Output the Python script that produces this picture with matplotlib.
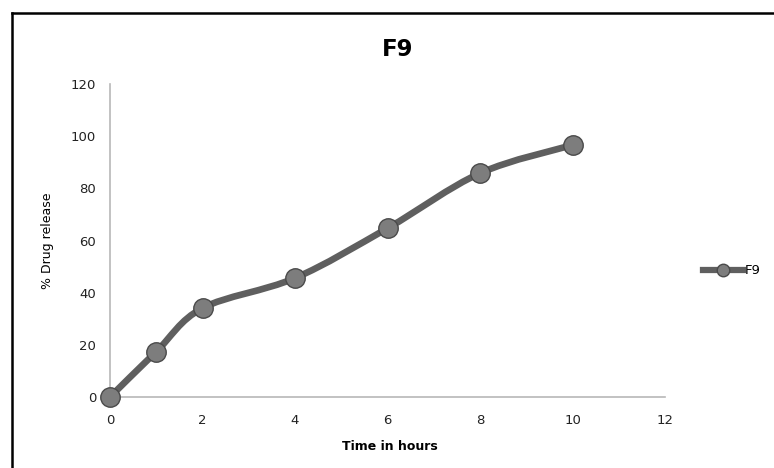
"""F9: % Drug release vs time (Excel-style smoothed line)."""

import matplotlib

matplotlib.use("Agg")
import matplotlib.pyplot as plt
from matplotlib.lines import Line2D
from matplotlib.patches import PathPatch
from matplotlib.path import Path

plt.rcParams["font.family"] = ["DejaVu Sans"]

TIME_H = [0, 1, 2, 4, 6, 8, 10]
RELEASE = [0, 17.4, 34.1, 45.6, 64.7, 85.8, 96.6]
SERIES = "F9"
X_TICKS = [0, 2, 4, 6, 8, 10, 12]
Y_TICKS = [0, 20, 40, 60, 80, 100, 120]

LINE_COL = "#5f5f5f"


def smooth_path(xs, ys):
    """Bezier path through the points, like Excel's smoothed line."""
    pts = list(zip(xs, ys))
    verts = [pts[0]]
    codes = [Path.MOVETO]
    n = len(pts)
    for i in range(n - 1):
        p0 = pts[max(i - 1, 0)]
        p1 = pts[i]
        p2 = pts[i + 1]
        p3 = pts[min(i + 2, n - 1)]
        c1 = (p1[0] + (p2[0] - p0[0]) / 6, p1[1] + (p2[1] - p0[1]) / 6)
        c2 = (p2[0] - (p3[0] - p1[0]) / 6, p2[1] - (p3[1] - p1[1]) / 6)
        verts += [c1, c2, p2]
        codes += [Path.CURVE4] * 3
    return Path(verts, codes)


fig = plt.figure(figsize=(7.74, 4.68), dpi=100)
ax = fig.add_axes([110 / 774, 1 - 397 / 468, 555 / 774, 313 / 468])

ax.add_patch(PathPatch(smooth_path(TIME_H, RELEASE), facecolor="none",
                       edgecolor=LINE_COL, lw=4.8, capstyle="round", zorder=2))
ax.plot(TIME_H, RELEASE, ls="none", marker="o", ms=14, mfc="#7d7d7d",
        mec="#4a4a4a", mew=1.0, clip_on=False, zorder=3)

ax.set_xlim(0, 12)
ax.set_ylim(0, 120)
ax.set_xticks(X_TICKS)
ax.set_yticks(Y_TICKS)
ax.tick_params(axis="y", length=0, labelsize=9.5, colors="#222222", pad=10)
ax.tick_params(axis="x", length=0, labelsize=9.5, colors="#222222", pad=12)
for side in ("top", "right"):
    ax.spines[side].set_visible(False)
for side in ("left", "bottom"):
    ax.spines[side].set_color("#b8b8b8")
    ax.spines[side].set_linewidth(1.2)

fig.text(398 / 774, 1 - 50 / 468, SERIES, ha="center", va="center",
         fontsize=16.5, fontweight="bold")
fig.text(390 / 774, 1 - 447 / 468, "Time in hours", ha="center", va="center",
         fontsize=9, fontweight="bold")
fig.text(48 / 774, 1 - 241 / 468, "% Drug release", ha="center", va="center",
         rotation=90, fontsize=9)

handle = Line2D([], [], color=LINE_COL, lw=4.5, marker="o", ms=9,
                mfc="#7d7d7d", mec="#4a4a4a")
fig.legend([handle], [SERIES], loc="center left",
           bbox_to_anchor=(694 / 774, 1 - 271 / 468), frameon=False,
           fontsize=9.5, handlelength=3.0, handletextpad=0.15,
           borderpad=0.2)

# outer chart border (top and left only visible)
fig.add_artist(Line2D([12 / 774, 1], [1 - 13 / 468] * 2, color="black", lw=1.8))
fig.add_artist(Line2D([12 / 774] * 2, [0, 1 - 13 / 468], color="black", lw=1.8))

fig.savefig("out.png", dpi=100)
